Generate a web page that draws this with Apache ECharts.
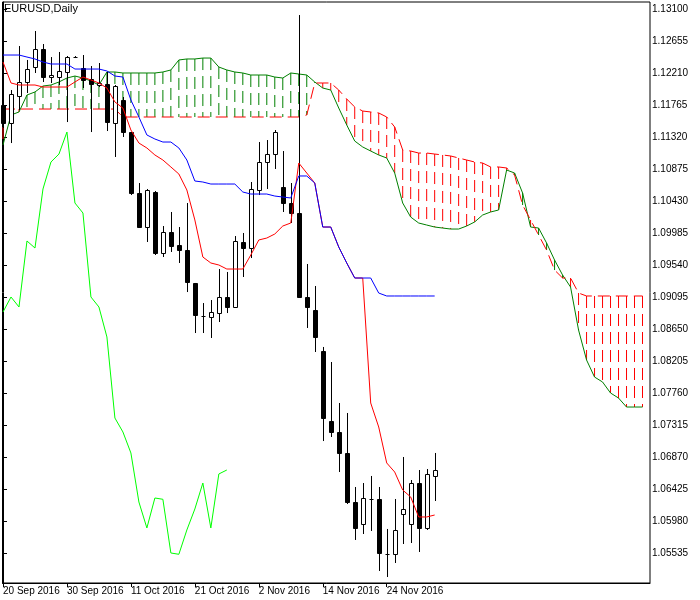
<!DOCTYPE html>
<html><head><meta charset="utf-8">
<script src="https://cdn.jsdelivr.net/npm/echarts@6/dist/echarts.min.js"></script>
<style>html,body{margin:0;padding:0;background:#fff}#c{width:700px;height:600px}</style>
</head><body><div id="c"></div>
<script>
const title = "EURUSD,Daily";
const dateLabels = ["20 Sep 2016","30 Sep 2016","11 Oct 2016","21 Oct 2016","2 Nov 2016","14 Nov 2016","24 Nov 2016"];
const dateLabelBars = [0,8,16,24,32,40,48];
const priceTicks = [1.13100,1.12655,1.12210,1.11765,1.11320,1.10875,1.10430,1.09985,1.09540,1.09095,1.08650,1.08205,1.07760,1.07315,1.06870,1.06425,1.05980,1.05535];

const open  = [1.11765,1.11515,1.11890,1.12085,1.12293,1.12544,1.12154,1.12154,1.12224,1.12432,1.12279,1.12126,1.12043,1.12057,1.11515,1.11834,1.11389,1.10541,1.10068,1.10555,1.09707,1.09999,1.09818,1.09748,1.09290,1.08831,1.08817,1.08872,1.09095,1.08956,1.09860,1.09776,1.10583,1.10972,1.11083,1.10625,1.10402,1.10263,1.09095,1.08914,1.08344,1.07371,1.07218,1.06926,1.06244,1.05938,1.06286,1.06286,1.05521,1.05521,1.06077,1.05938,1.06508,1.05883,1.06606];
const close = [1.11515,1.11918,1.12085,1.12265,1.12544,1.12154,1.12182,1.12238,1.12432,1.12428,1.12113,1.12057,1.12071,1.11528,1.12029,1.11389,1.10541,1.10068,1.10583,1.09707,1.09999,1.09804,1.09748,1.09303,1.08845,1.08827,1.08886,1.09095,1.08956,1.09874,1.09776,1.10597,1.10972,1.11083,1.11389,1.10402,1.10263,1.09095,1.08956,1.08539,1.07412,1.07218,1.06926,1.06244,1.05883,1.06300,1.06282,1.05535,1.05517,1.05855,1.06147,1.06508,1.05883,1.06634,1.06689];
const low   = [1.11445,1.11236,1.11695,1.11932,1.12210,1.12085,1.12071,1.12043,1.11528,1.12418,1.12001,1.11389,1.12015,1.11403,1.11042,1.11320,1.10513,1.10068,1.09860,1.09679,1.09651,1.09721,1.09568,1.09164,1.08594,1.08594,1.08525,1.08747,1.08872,1.08942,1.09373,1.09637,1.10513,1.10597,1.10875,1.10277,1.10124,1.09095,1.08664,1.08330,1.07092,1.07148,1.06661,1.06216,1.05716,1.05799,1.05841,1.05285,1.05201,1.05396,1.05660,1.05674,1.05549,1.05855,1.06258];
const high  = [1.11834,1.11973,1.12585,1.12391,1.12794,1.12613,1.12432,1.12502,1.12446,1.12446,1.12460,1.12307,1.12349,1.12224,1.12043,1.11876,1.11389,1.10680,1.10597,1.10569,1.10082,1.10277,1.10068,1.10402,1.09290,1.09011,1.09053,1.09484,1.09443,1.09943,1.09985,1.10694,1.11250,1.11278,1.11417,1.11125,1.10680,1.13016,1.09554,1.09248,1.08400,1.08191,1.07621,1.07482,1.06453,1.06508,1.06606,1.06453,1.05869,1.06286,1.06870,1.06550,1.06689,1.06703,1.06926];

const tenkan = [1.12363,1.12071,1.12043,1.12043,1.12043,1.12015,1.12015,1.12015,1.12015,1.12085,1.12154,1.12113,1.12071,1.12001,1.11807,1.11723,1.11417,1.11236,1.11167,1.11070,1.11000,1.10903,1.10805,1.10583,1.10166,1.09651,1.09568,1.09540,1.09484,1.09484,1.09484,1.09679,1.09888,1.09915,1.09971,1.10082,1.10124,1.10958,1.10819,1.10680,1.10068,1.10068,1.09790,1.09568,1.09359,1.09359,1.07621,1.07287,1.06787,1.06661,1.06411,1.06314,1.06036,1.06036,1.06063];
const kijun = [1.12460,1.12460,1.12460,1.12432,1.12405,1.12363,1.12335,1.12335,1.12335,1.12265,1.12265,1.12265,1.12265,1.12238,1.12168,1.12154,1.11834,1.11598,1.11348,1.11292,1.11250,1.11250,1.11167,1.11000,1.10708,1.10694,1.10666,1.10666,1.10666,1.10666,1.10555,1.10527,1.10527,1.10527,1.10499,1.10485,1.10472,1.10778,1.10778,1.10680,1.10068,1.10068,1.09790,1.09568,1.09359,1.09359,1.09359,1.09150,1.09109,1.09109,1.09109,1.09109,1.09109,1.09109,1.09109];
const senkouA = [1.11209,1.11626,1.11668,1.11904,1.11946,1.12029,1.12043,1.12085,1.12140,1.12168,1.12140,1.12099,1.12043,1.12224,1.12224,1.12210,1.12210,1.12210,1.12210,1.12210,1.12224,1.12252,1.12391,1.12405,1.12405,1.12418,1.12418,1.12293,1.12252,1.12224,1.12210,1.12182,1.12182,1.12182,1.12154,1.12140,1.12210,1.12196,1.12182,1.12085,1.12001,1.11973,1.11723,1.11487,1.11264,1.11181,1.11125,1.11070,1.11028,1.10819,1.10402,1.10207,1.10124,1.10096,1.10068,1.10054,1.10040,1.10040,1.10082,1.10138,1.10235,1.10277,1.10305,1.10861,1.10819,1.10541,1.10068,1.10054,1.09846,1.09609,1.09401,1.09234,1.08636,1.08219,1.07982,1.07913,1.07760,1.07690,1.07565,1.07565,1.07565];
const senkouB = [1.11709,1.11709,1.11709,1.11709,1.11709,1.11709,1.11709,1.11709,1.11709,1.11709,1.11709,1.11709,1.11709,1.11709,1.11709,1.11598,1.11598,1.11598,1.11598,1.11598,1.11598,1.11598,1.11598,1.11598,1.11598,1.11598,1.11598,1.11598,1.11598,1.11598,1.11598,1.11598,1.11598,1.11598,1.11598,1.11598,1.11598,1.11598,1.11626,1.12071,1.12071,1.12071,1.11973,1.11848,1.11737,1.11681,1.11668,1.11654,1.11598,1.11459,1.11139,1.11125,1.11097,1.11097,1.11083,1.11070,1.11056,1.11028,1.11000,1.10972,1.10958,1.10903,1.10903,1.10889,1.10791,1.10374,1.10166,1.09957,1.09748,1.09470,1.09359,1.09359,1.09150,1.09109,1.09109,1.09109,1.09109,1.09109,1.09109,1.09109,1.09109];
const chikouShift = 26;

const candles = open.map((o,i)=>[i,o,close[i],low[i],high[i]]);
const chikou = [];
for (let i = chikouShift; i < close.length; i++) chikou.push([i - chikouShift, close[i]]);
// hatch segments: top (max) to bottom (min), separated by null gaps
const hatchUp = [], hatchDown = [];
senkouA.forEach((a,i)=>{
  const b = senkouB[i];
  const arr = a >= b ? hatchUp : hatchDown;
  arr.push([i, Math.max(a,b)], [i, Math.min(a,b)], null);
});

const FONT = 'Liberation Sans';
const chart = echarts.init(document.getElementById('c'), null, {renderer:'canvas'});
chart.setOption({
  animation:false,
  backgroundColor:'#fff',
  graphic:[{type:'text',left:4,top:3,style:{text:title,fill:'#000',font:'11px '+FONT}}],
  grid:{left:2,top:2,width:648,height:581,show:true,borderColor:'#000',borderWidth:1,backgroundColor:'#fff'},
  xAxis:{type:'value',min:-0.0625,max:80.9375,
    axisLine:{lineStyle:{color:'#000'}},
    axisTick:{show:true,length:4,inside:false,lineStyle:{color:'#000'},customValues:dateLabelBars},
    axisLabel:{customValues:dateLabelBars,align:'left',margin:3,color:'#000',fontFamily:FONT,fontSize:10,
      formatter:v=>dateLabels[dateLabelBars.indexOf(Math.round(v))]||''},
    splitLine:{show:false}},
  yAxis:{type:'value',position:'right',min:1.051178,max:1.131973,
    axisLine:{show:true,lineStyle:{color:'#000'}},
    axisTick:{show:true,length:4,lineStyle:{color:'#000'},customValues:priceTicks},
    axisLabel:{customValues:priceTicks,margin:2,color:'#000',fontFamily:FONT,fontSize:10,formatter:v=>v.toFixed(5)},
    splitLine:{show:false}},
  series:[
    {type:'line',data:hatchUp,showSymbol:false,connectNulls:false,z:2,silent:true,lineStyle:{color:'#008000',width:1,type:[12,6]}},
    {type:'line',data:hatchDown,showSymbol:false,connectNulls:false,z:2,silent:true,lineStyle:{color:'#ff0000',width:1,type:[12,6]}},
    {type:'line',data:senkouA.map((v,i)=>[i,v]),showSymbol:false,z:3,lineStyle:{color:'#008000',width:1}},
    {type:'line',data:senkouB.map((v,i)=>[i,v]),showSymbol:false,z:3,lineStyle:{color:'#ff0000',width:1,type:[12,6]}},
    {type:'custom',data:candles,z:4,silent:true,
      renderItem:(p,api)=>{
        const i=api.value(0),o=api.value(1),c=api.value(2),l=api.value(3),h=api.value(4);
        const po=api.coord([i,o]),pc=api.coord([i,c]),pl=api.coord([i,l]),ph=api.coord([i,h]);
        const x=Math.round(po[0])+0.5;
        const t=Math.round(Math.min(po[1],pc[1]))+0.5,b=Math.round(Math.max(po[1],pc[1]))+0.5;
        const bear=c<o;
        const children=[{type:'line',shape:{x1:x,y1:ph[1],x2:x,y2:pl[1]},style:{stroke:'#000',lineWidth:1}}];
        if (b-t<1) children.push({type:'line',shape:{x1:x-2,y1:t,x2:x+2,y2:t},style:{stroke:'#000',lineWidth:1}});
        else children.push({type:'rect',shape:{x:x-2,y:t,width:4,height:b-t},style:{fill:bear?'#000':'#fff',stroke:'#000',lineWidth:1}});
        return {type:'group',children};
      }},
    {type:'line',data:chikou,showSymbol:false,z:5,lineStyle:{color:'#00ff00',width:1}},
    {type:'line',data:tenkan.map((v,i)=>[i,v]),showSymbol:false,z:5,lineStyle:{color:'#ff0000',width:1}},
    {type:'line',data:kijun.map((v,i)=>[i,v]),showSymbol:false,z:6,lineStyle:{color:'#0000ff',width:1}}
  ]
});
</script></body></html>
